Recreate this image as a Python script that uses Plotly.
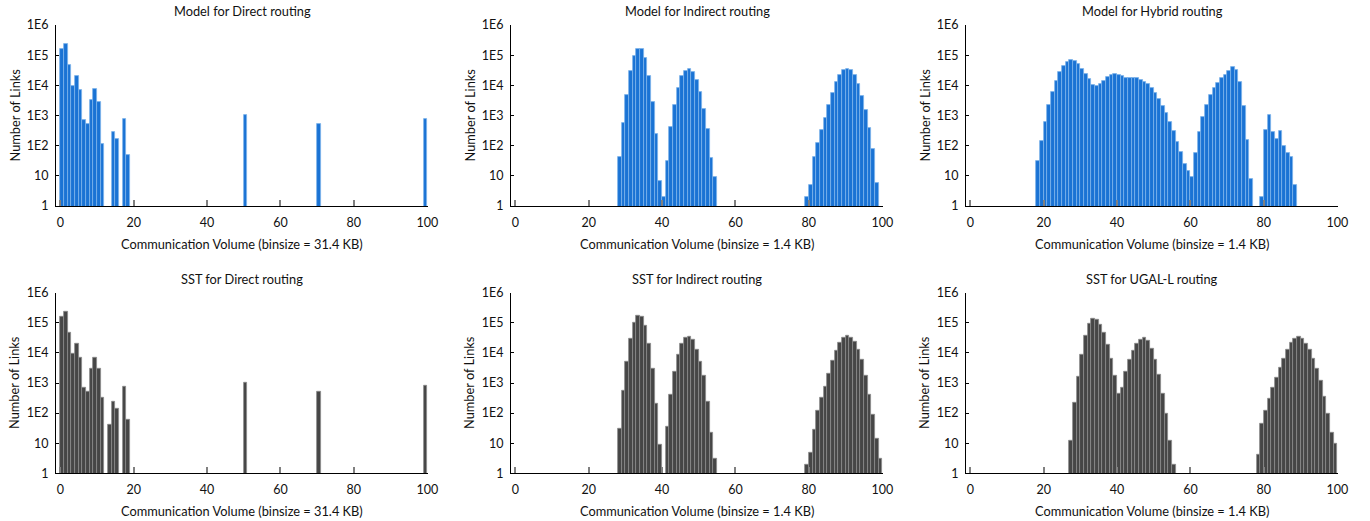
import plotly.graph_objects as go

# ---------------- data (bin index -> number of links) ----------------
model_direct_bins = [0, 1, 2, 3, 4, 5, 6, 7, 8, 9, 10, 11, 14, 15, 17, 18, 50, 70, 99]
model_direct_counts = [1.55e5, 2.4e5, 4.9e4, 9.8e3, 2.1e4, 7.2e3, 720, 530, 3.3e3, 7.6e3,
                       2.9e3, 115, 280, 163, 740, 49, 1040, 525, 790]

model_indirect_bins = list(range(28, 55)) + list(range(79, 99))
model_indirect_counts = [41, 550, 4.8e3, 3.0e4, 9.4e4, 1.6e5, 1.56e5, 8.1e4, 2.0e4, 2.9e3, 245, 7, 2,
                         30, 405, 2.2e3, 8.2e3, 2.0e4, 3.1e4, 3.5e4, 2.7e4, 1.5e4, 5.9e3, 1.6e3, 350, 38, 9,
                         2, 5, 42, 125, 330, 850, 2.2e3, 5.4e3, 1.3e4, 2.2e4, 3.2e4, 3.6e4, 3.2e4, 2.2e4,
                         1.1e4, 4.4e3, 1.5e3, 400, 80, 6]

model_hybrid_bins = list(range(18, 77)) + list(range(79, 89))
model_hybrid_counts = [30, 140, 590, 2.2e3, 6.2e3, 1.4e4, 2.8e4, 4.4e4, 6.1e4, 6.7e4,
                       6.4e4, 5.1e4, 3.6e4, 2.4e4, 1.6e4, 1.05e4, 9.5e3, 1.07e4, 1.4e4, 1.9e4,
                       2.2e4, 2.4e4, 2.2e4, 2.0e4, 1.8e4, 1.7e4, 1.7e4, 1.7e4, 1.5e4, 1.3e4,
                       1.07e4, 7.9e3, 5.4e3, 3.5e3, 2.1e3, 1.2e3, 630, 300, 135, 63,
                       25, 15, 9.4, 56, 290, 870, 2.2e3, 4.8e3, 7.9e3, 1.2e4,
                       1.8e4, 2.2e4, 2.9e4, 4.0e4, 3.3e4, 1.3e4, 2.0e3, 160, 8,
                       2, 330, 1.04e3, 277, 170, 315, 98, 58, 43, 5]

sst_direct_bins = [0, 1, 2, 3, 4, 5, 6, 7, 8, 9, 10, 11, 13, 14, 15, 17, 18, 50, 70, 99]
sst_direct_counts = [1.6e5, 2.3e5, 4.7e4, 9.4e3, 2.0e4, 7.1e3, 720, 510, 3.1e3, 7.1e3,
                     3.1e3, 333, 41, 246, 144, 740, 59, 1030, 515, 795]

sst_indirect_bins = list(range(28, 40)) + list(range(41, 55)) + list(range(79, 100))
sst_indirect_counts = [31, 545, 5.1e3, 3.0e4, 1.0e5, 1.7e5, 1.6e5, 8.1e4, 2.0e4, 2.9e3, 205, 9,
                       35, 410, 2.4e3, 9.0e3, 2.1e4, 3.2e4, 3.5e4, 2.7e4, 1.3e4, 5.0e3, 1.7e3, 240, 23, 3,
                       2, 5, 28, 124, 316, 780, 2.0e3, 5.5e3, 1.2e4, 2.2e4, 3.2e4, 3.6e4, 3.3e4, 2.3e4,
                       1.3e4, 5.8e3, 1.7e3, 400, 91, 14, 3]

sst_ugal_bins = list(range(27, 56)) + list(range(78, 100))
sst_ugal_counts = [12, 230, 1.6e3, 9.0e3, 3.6e4, 9.1e4, 1.4e5, 1.3e5, 8.7e4, 4.7e4,
                   1.9e4, 6.5e3, 1.8e3, 435, 700, 2.3e3, 5.8e3, 1.2e4, 2.1e4, 2.8e4,
                   3.1e4, 2.6e4, 1.4e4, 6.0e3, 1.85e3, 435, 98, 12, 2,
                   4, 44, 120, 310, 680, 1.5e3, 3.2e3, 6.3e3, 1.3e4, 2.2e4, 3.0e4,
                   3.4e4, 2.9e4, 2.1e4, 1.3e4, 6.5e3, 2.9e3, 1.2e3, 360, 93, 23, 10]

titles = ["Model for Direct routing", "Model for Indirect routing", "Model for Hybrid routing",
          "SST for Direct routing", "SST for Indirect routing", "SST for UGAL-L routing"]
xlabels = ["Communication Volume (binsize = 31.4 KB)", "Communication Volume (binsize = 1.4 KB)",
           "Communication Volume (binsize = 1.4 KB)", "Communication Volume (binsize = 31.4 KB)",
           "Communication Volume (binsize = 1.4 KB)", "Communication Volume (binsize = 1.4 KB)"]
ylabel = "Number of Links"
ytick_vals = [1, 10, 100, 1000, 10000, 100000, 1000000]
ytick_text = ["1", "10", "1E2", "1E3", "1E4", "1E5", "1E6"]
xtick_vals = [0, 20, 40, 60, 80, 100]

panels = [
    (model_direct_bins, model_direct_counts),
    (model_indirect_bins, model_indirect_counts),
    (model_hybrid_bins, model_hybrid_counts),
    (sst_direct_bins, sst_direct_counts),
    (sst_indirect_bins, sst_indirect_counts),
    (sst_ugal_bins, sst_ugal_counts),
]

# ---------------- layout geometry ----------------
W, H = 1370, 521
FONT = "Lato, 'Open Sans', sans-serif"
col_px = [(56, 428), (511, 883), (966, 1338)]
row_px = [(25, 206), (292.7, 473.3)]
BLUE, BLUE_EDGE = "#1a73d4", "#7db4ea"
GREY, GREY_EDGE = "#464646", "#8c8c8c"

fig = go.Figure()
layout = dict(
    template="none", autosize=False,
    width=W, height=H, margin=dict(l=0, r=0, t=0, b=0, pad=0, autoexpand=False),
    paper_bgcolor="white", plot_bgcolor="white", showlegend=False,
    font=dict(family=FONT, size=12, color="#111"), bargap=0,
)
annotations = []

for i, (bins, counts) in enumerate(panels):
    r, c = divmod(i, 3)
    n = i + 1
    xa = "x" if n == 1 else f"x{n}"
    ya = "y" if n == 1 else f"y{n}"
    color, edge = (BLUE, BLUE_EDGE) if r == 0 else (GREY, GREY_EDGE)
    fig.add_trace(go.Bar(
        x=[b + 0.5 for b in bins], y=counts, width=1.0,
        marker=dict(color=color, line=dict(color=edge, width=0.8)),
        xaxis=xa, yaxis=ya,
    ))
    x0, x1 = col_px[c]
    y0, y1 = row_px[r]
    layout["xaxis" if n == 1 else f"xaxis{n}"] = dict(
        domain=[x0 / W, x1 / W], anchor=ya, range=[-1.17, 100.2], automargin=False,
        showline=True, linecolor="black", linewidth=1, showgrid=False, zeroline=False,
        tickvals=xtick_vals, ticks="inside", ticklen=6, tickwidth=2, tickcolor="#808080",
        ticklabelstandoff=5, tickfont=dict(family=FONT, size=12.5, color="#111"),
    )
    layout["yaxis" if n == 1 else f"yaxis{n}"] = dict(
        domain=[1 - y1 / H, 1 - y0 / H], anchor=xa, type="log", range=[0, 6], automargin=False,
        showline=True, linecolor="black", linewidth=1, showgrid=False, zeroline=False,
        tickvals=ytick_vals, ticktext=ytick_text, ticks="inside", ticklen=3,
        tickwidth=1, tickcolor="black", ticklabelstandoff=4,
        tickfont=dict(family=FONT, size=12.5, color="#111"),
    )
    xc = (x0 + x1) / 2 / W
    annotations.append(dict(text=titles[i], x=xc, y=1 - (y0 - 14) / H, xref="paper", yref="paper",
                            showarrow=False, font=dict(family=FONT, size=12.8, color="#111"),
                            xanchor="center", yanchor="middle"))
    annotations.append(dict(text=xlabels[i], x=xc, y=1 - (y1 + 38) / H, xref="paper", yref="paper",
                            showarrow=False, font=dict(family=FONT, size=12.8, color="#111"),
                            xanchor="center", yanchor="middle"))
    annotations.append(dict(text=ylabel, x=(x0 - 42) / W, y=1 - ((y0 + y1) / 2) / H,
                            xref="paper", yref="paper", textangle=-90, showarrow=False,
                            font=dict(family=FONT, size=12.8, color="#111"),
                            xanchor="center", yanchor="middle"))

layout["annotations"] = annotations
fig.update_layout(**layout)
fig.write_html("out.html", config={"displayModeBar": False},
               post_script="document.body.style.margin='0';document.body.style.overflow='hidden';")
